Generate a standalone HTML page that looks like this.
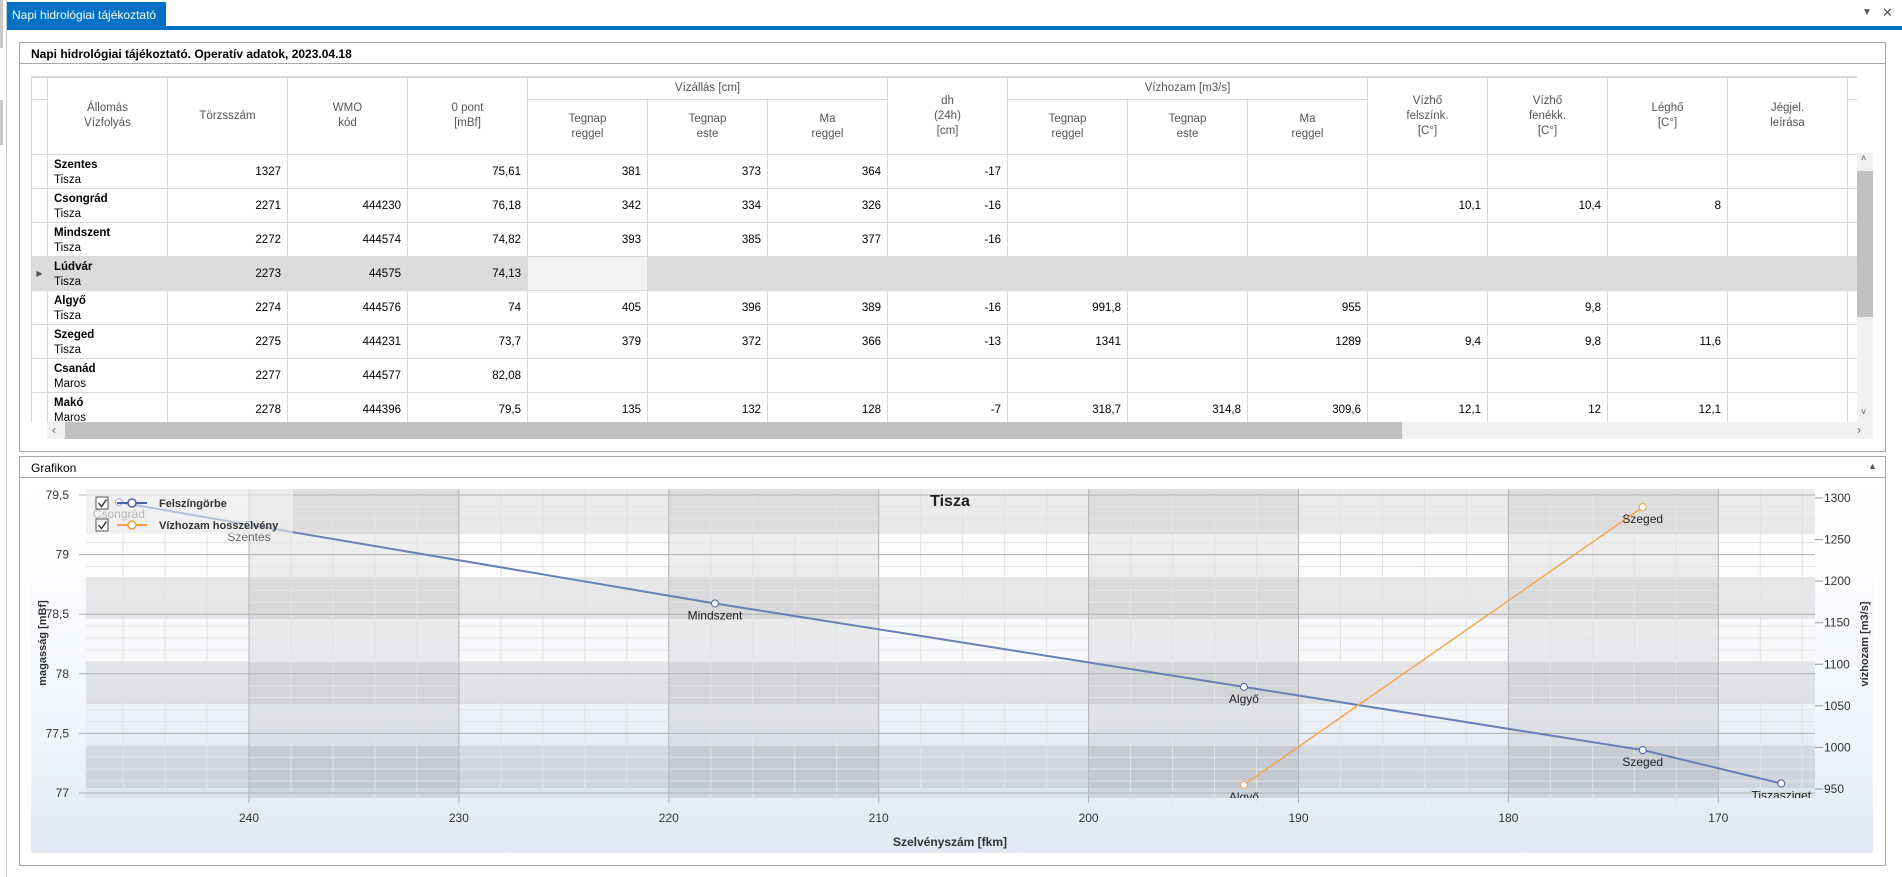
<!DOCTYPE html>
<html><head><meta charset="utf-8">
<style>
*{box-sizing:border-box}
body{margin:0;width:1902px;height:877px;overflow:hidden;background:#fff;font-family:"Liberation Sans",sans-serif;font-size:12px;color:#000;position:relative}
.abs{position:absolute}
table{border-collapse:collapse;table-layout:fixed}
td,th{border:1px solid #d9d9d9;padding:0 6px;overflow:hidden;white-space:nowrap;font-weight:normal}
th{color:#555;text-align:center;line-height:15px;font-size:11.5px}
td{height:33px;text-align:right;font-size:11.5px;line-height:15px;padding-top:2px}
td.st{text-align:left;vertical-align:top;padding-top:3px}
td.st b{display:block}
tr.sel td{background:#dcdcdc}
tr.sel td.foc{background:#f2f2f2}
td.ind{padding:0;text-align:center;color:#555;font-size:8px}
</style></head><body>
<div class="abs" style="left:6px;top:0;width:1px;height:877px;background:#c8c8c8"></div>
<div class="abs" style="left:0;top:0;width:3px;height:48px;background:#c8c8c8"></div>
<div class="abs" style="left:0;top:100px;width:3px;height:45px;background:#c8c8c8"></div>
<div class="abs" style="left:7px;top:2px;width:159px;height:26px;background:#0072c6;color:#fff;font-size:12px;line-height:26px;padding-left:5px">Napi hidrológiai tájékoztató</div>
<div class="abs" style="left:7px;top:26px;width:1895px;height:4px;background:#0072c6"></div>
<div class="abs" style="left:1862px;top:7px;font-size:10px;color:#555">▼</div>
<div class="abs" style="left:1882px;top:5px;font-size:13px;color:#555">✕</div>

<div class="abs" style="left:19px;top:42px;width:1867px;height:410px;border:1px solid #a8a8a8"></div>
<div class="abs" style="left:31px;top:47px;font-weight:bold;font-size:12px">Napi hidrológiai tájékoztató. Operatív adatok, 2023.04.18</div>
<div class="abs" style="left:20px;top:63px;width:1865px;height:1px;background:#a8a8a8"></div>

<div class="abs" style="left:31px;top:76px;width:1826px;height:346px;overflow:hidden;border-top:1px solid #d9d9d9">
<table style="width:1826px">
<colgroup><col style="width:16px"><col style="width:120px"><col style="width:120px"><col style="width:120px"><col style="width:120px"><col style="width:120px"><col style="width:120px"><col style="width:120px"><col style="width:120px"><col style="width:120px"><col style="width:120px"><col style="width:120px"><col style="width:120px"><col style="width:120px"><col style="width:120px"><col style="width:120px"><col style="width:10px"></colgroup>
<thead>
<tr style="height:22px"><th></th><th rowspan="2">Állomás<br>Vízfolyás</th><th rowspan="2">Törzsszám</th><th rowspan="2">WMO<br>kód</th><th rowspan="2">0 pont<br>[mBf]</th><th colspan="3">Vízállás [cm]</th><th rowspan="2">dh<br>(24h)<br>[cm]</th><th colspan="3">Vízhozam [m3/s]</th><th rowspan="2">Vízhő<br>felszínk.<br>[C°]</th><th rowspan="2">Vízhő<br>fenékk.<br>[C°]</th><th rowspan="2">Léghő<br>[C°]</th><th rowspan="2">Jégjel.<br>leírása</th><th></th></tr>
<tr style="height:55px"><th></th><th>Tegnap<br>reggel</th><th>Tegnap<br>este</th><th>Ma<br>reggel</th><th>Tegnap<br>reggel</th><th>Tegnap<br>este</th><th>Ma<br>reggel</th><th></th></tr>
</thead>
<tbody id="tb"></tbody>
</table>
</div>
<div class="abs" style="left:1857px;top:153px;width:16px;height:269px;background:#f0f0f0">
 <div class="abs" style="left:4px;top:0;font-size:9px;color:#555">˄</div>
 <div class="abs" style="left:0;top:18px;width:16px;height:146px;background:#c0c0c0"></div>
 <div class="abs" style="left:4px;top:254px;font-size:9px;color:#555">˅</div>
</div>
<div class="abs" style="left:47px;top:422px;width:1826px;height:17px;background:#f0f0f0">
 <div class="abs" style="left:5px;top:1px;color:#666">‹</div>
 <div class="abs" style="left:18px;top:0;width:1337px;height:17px;background:#c0c0c0"></div>
 <div class="abs" style="left:1810px;top:1px;color:#666">›</div>
</div>

<div class="abs" style="left:19px;top:456px;width:1867px;height:410px;border:1px solid #a8a8a8"></div>
<div class="abs" style="left:31px;top:461px;font-size:12px">Grafikon</div>
<div class="abs" style="left:1868px;top:461px;font-size:9px;color:#555">▲</div>
<div class="abs" style="left:20px;top:477px;width:1865px;height:1px;background:#a8a8a8"></div>
<div class="abs" style="left:31px;top:489px;width:1842px;height:364px;background:linear-gradient(#ffffff 0%,#f3f6fb 60%,#e1e8f5 100%)"></div>

<svg class="abs" style="left:0;top:0" width="1902" height="877" viewBox="0 0 1902 877" id="chart">
<defs>
<linearGradient id="pg" x1="0" y1="0" x2="0" y2="1"><stop offset="0" stop-color="#ffffff"/><stop offset="0.6" stop-color="#f6f7fa"/><stop offset="1" stop-color="#dde3ee"/></linearGradient>
<clipPath id="pc"><rect x="86" y="489" width="1729" height="309"/></clipPath>
</defs>
<g id="bg"></g><g id="grid"></g><g id="axes"></g><g id="series" clip-path="url(#pc)"></g><g id="legend"></g>
</svg>

<script>
// table data
const stations=['Szentes','Csongrád','Mindszent','Lúdvár','Algyő','Szeged','Csanád','Makó','Apátfalva'];
const rivers=['Tisza','Tisza','Tisza','Tisza','Tisza','Tisza','Maros','Maros','Maros'];
const rowsData=[
['1327','','75,61','381','373','364','-17','','','','','','',''],
['2271','444230','76,18','342','334','326','-16','','','','10,1','10,4','8',''],
['2272','444574','74,82','393','385','377','-16','','','','','','',''],
['2273','44575','74,13','','','','','','','','','','',''],
['2274','444576','74','405','396','389','-16','991,8','','955','','9,8','',''],
['2275','444231','73,7','379','372','366','-13','1341','','1289','9,4','9,8','11,6',''],
['2277','444577','82,08','','','','','','','','','','',''],
['2278','444396','79,5','135','132','128','-7','318,7','314,8','309,6','12,1','12','12,1',''],
['','','','','','','','','','','','','','']];
const tb=document.getElementById('tb');
rowsData.forEach((r,i)=>{
 const tr=document.createElement('tr');
 
 
 if(i===3) tr.className='sel';
 let h='<td class="ind">'+(i===3?'▶':'')+'</td><td class="st"><b>'+stations[i]+'</b>'+rivers[i]+'</td>';
 r.forEach((v,j)=>{h+='<td'+(i===3&&j===3?' class="foc"':'')+'>'+v+'</td>';});
 h+='<td></td>';
 tr.innerHTML=h;
 tb.appendChild(tr);
});

// chart data
const kmTicks=[240,230,220,210,200,190,180,170];
const leftTicks=[79.5,79,78.5,78,77.5,77];
const rightTicks=[1300,1250,1200,1150,1100,1050,1000,950];
const surfStations=['Csongrád','Szentes','Mindszent','Algyő','Szeged','Tiszasziget'];
const surfKm=[246.2,240.0,217.8,192.6,173.6,167.0];
const surfH=[79.44,79.25,78.59,77.89,77.36,77.08];
const flowStations=['Algyő','Szeged'];
const flowKm=[192.6,173.6];
const flowQ=[955,1289];

const NS='http://www.w3.org/2000/svg';
const X0=86,X1=1815,Y0=489,Y1=798;
const xS=v=>249+(240-v)*20.99;
const yL=h=>495+(79.5-h)*119.2;
const yR=q=>498+(1300-q)*0.8314;
function mk(tag,attrs,parent,text){const e=document.createElementNS(NS,tag);for(const k in attrs)e.setAttribute(k,attrs[k]);if(text!==undefined)e.textContent=text;parent.appendChild(e);return e;}
const bg=document.getElementById('bg'),grid=document.getElementById('grid'),axes=document.getElementById('axes'),ser=document.getElementById('series'),leg=document.getElementById('legend');

let r=mk('rect',{x:X0,y:Y0,width:X1-X0,height:Y1-Y0,fill:'url(#pg)'},bg);


[[489,534],[577,619],[662,704],[745,788]].forEach(b=>{
 const s=mk('rect',{x:X0,y:b[0],width:X1-X0,height:b[1]-b[0],fill:'rgba(0,0,0,0.075)'},bg);
 
 
});
for(let i=0;i+1<kmTicks.length;i+=2){
 const s=mk('rect',{x:xS(kmTicks[i]),y:Y0,width:xS(kmTicks[i+1])-xS(kmTicks[i]),height:Y1-Y0,fill:'rgba(0,0,0,0.06)'},bg);
 
 
}
// minor grid
for(let v=246;v>=166;v-=2){const x=xS(v);if(x<X0||x>X1)continue;
 const l=mk('line',{x1:x,y1:Y0,x2:x,y2:803,stroke:'#e2e2e2','stroke-width':1},grid);
 
 }
for(let h=79.5;h>=76.95;h-=0.1){const y=yL(h);if(y>Y1)continue;
 const l=mk('line',{x1:X0,y1:y,x2:X1,y2:y,stroke:'#e4e4e4','stroke-width':1},grid);
 
 }
kmTicks.forEach(v=>{const x=xS(v);
 const l=mk('line',{x1:x,y1:Y0,x2:x,y2:803,stroke:'#b4b4b4','stroke-width':1},grid);
 
 
 const t=mk('text',{x:x,y:822,'text-anchor':'middle','font-size':12,fill:'#333'},axes,String(v));
 
 });
leftTicks.forEach(h=>{const y=yL(h);
 const l=mk('line',{x1:79,y1:y,x2:X1,y2:y,stroke:'#b0b0b0','stroke-width':1},grid);
 
 
 const t=mk('text',{x:69,y:y+4,'text-anchor':'end','font-size':12,fill:'#333'},axes,String(h).replace('.',','));
 
 });
rightTicks.forEach(q=>{const y=yR(q);
 const l=mk('line',{x1:X1,y1:y,x2:X1+8,y2:y,stroke:'#999','stroke-width':1},axes);
 
 
 const t=mk('text',{x:1824,y:y+4,'font-size':12,fill:'#333'},axes,String(q));
 
 });
let t=mk('text',{x:950,y:846,'text-anchor':'middle','font-size':12,'font-weight':'bold',fill:'#333'},axes,'Szelvényszám [fkm]');


t=mk('text',{x:0,y:0,'text-anchor':'middle','font-size':11,'font-weight':'bold',fill:'#333',transform:'translate(46,643) rotate(-90)'},axes,'magasság [mBf]');


t=mk('text',{x:0,y:0,'text-anchor':'middle','font-size':11,'font-weight':'bold',fill:'#333',transform:'translate(1868,644) rotate(-90)'},axes,'vízhozam [m3/s]');


t=mk('text',{x:950,y:506,'text-anchor':'middle','font-size':16,'font-weight':'bold',fill:'#222'},axes,'Tisza');



// series
let p=mk('polyline',{points:surfKm.map((v,i)=>xS(v)+','+yL(surfH[i])).join(' '),fill:'none',stroke:'#6a7fb5','stroke-width':2},ser);


p=mk('polyline',{points:flowKm.map((v,i)=>xS(v)+','+yR(flowQ[i])).join(' '),fill:'none',stroke:'#f0a850','stroke-width':1.5},ser);


surfKm.forEach((v,i)=>{const x=xS(v),y=yL(surfH[i]);
 const c=mk('circle',{cx:x,cy:y,r:3.5,fill:'#fff',stroke:'#4a62a8','stroke-width':1},ser);
 
 
 const l=mk('text',{x:x,y:y+16,'text-anchor':'middle','font-size':12,fill:i<2?'#666':'#222'},ser,surfStations[i]);
 
 });
flowKm.forEach((v,i)=>{const x=xS(v),y=yR(flowQ[i]);
 const c=mk('circle',{cx:x,cy:y,r:3.5,fill:'#fff',stroke:'#f0a040','stroke-width':1},ser);
 
 
 const l=mk('text',{x:x,y:y+16,'text-anchor':'middle','font-size':12,fill:'#222'},ser,flowStations[i]);
 
 });

// legend
let lb=mk('rect',{x:86,y:489,width:207,height:45,fill:'rgba(245,245,245,0.55)'},leg);


[['Felszíngörbe','#4a62a8',503],['Vízhozam hosszelvény','#f0a040',525]].forEach((e,i)=>{
 const g=mk('g',{},leg);
 
 
 mk('rect',{x:96,y:e[2]-6,width:12,height:12,fill:'#fff',stroke:'#555','stroke-width':1},g);
 mk('path',{d:`M98.5 ${e[2]} l3 3.5 l5 -7`,fill:'none',stroke:'#222','stroke-width':1.3},g);
 mk('line',{x1:117,y1:e[2],x2:147,y2:e[2],stroke:e[1],'stroke-width':2},g);
 mk('circle',{cx:132,cy:e[2],r:4,fill:'#fff',stroke:e[1],'stroke-width':1.5},g);
 mk('text',{x:159,y:e[2]+4,'font-size':11,'font-weight':'bold',fill:'#333'},g,e[0]);
});
</script>
</body></html>
